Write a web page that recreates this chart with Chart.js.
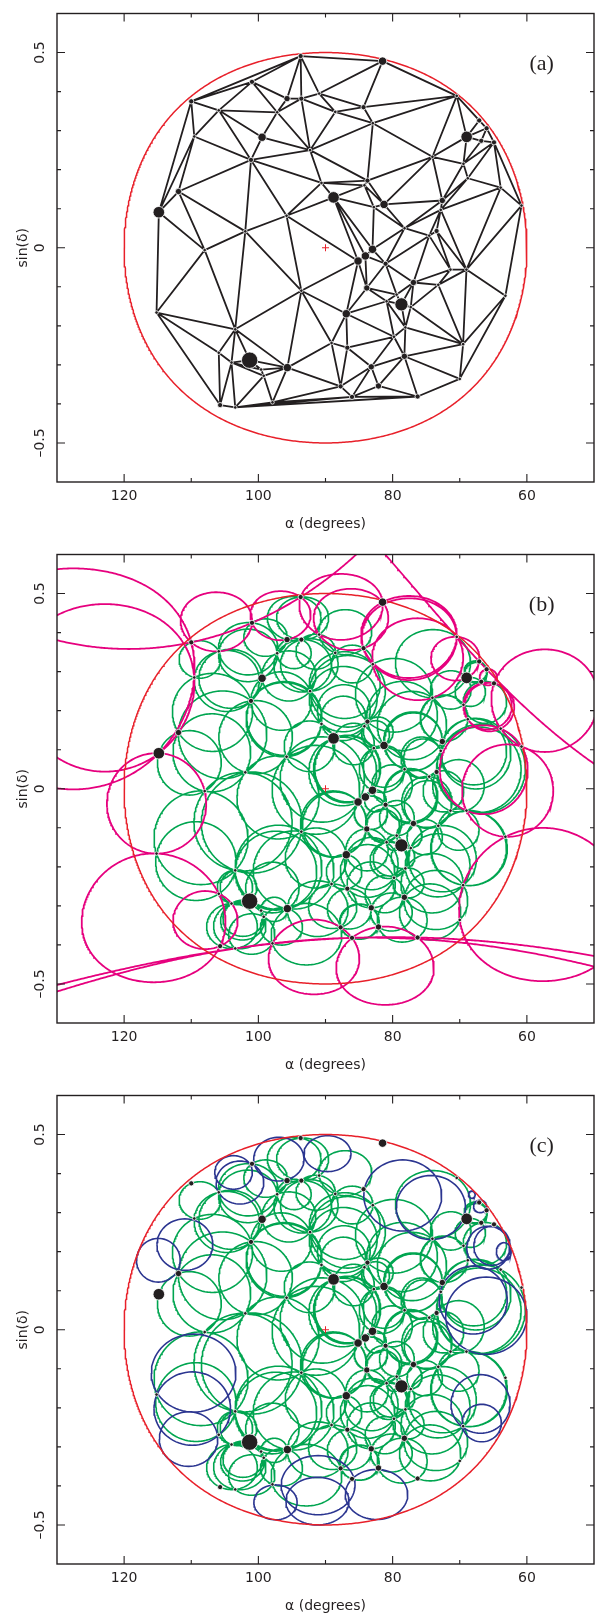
<!DOCTYPE html>
<html>
<head>
<meta charset="utf-8">
<script src="https://cdn.jsdelivr.net/npm/chart.js@4.4.1/dist/chart.umd.min.js"></script>
<style>
    body { margin: 0; background: #fff; overflow: hidden; }
    #wrap { position: relative; width: 603px; height: 1617px; overflow: hidden; }
    canvas { position: absolute; left: 0; }
</style>
</head>
<body>
<div id="wrap">
    <canvas id="chartA" width="603" height="541" style="top:0"></canvas>
    <canvas id="chartB" width="603" height="541" style="top:541px"></canvas>
    <canvas id="chartC" width="603" height="541" style="top:1082px"></canvas>
</div>
<script>
// source positions (right ascension in degrees, sin of declination) and dot weight
const ra = [93.7, 81.5, 100.95, 95.73, 93.6, 84.33, 70.45, 110.0, 105.9, 88.55,
    82.95, 67.1, 66.0, 64.9, 66.8, 68.97, 99.45, 109.55, 97.2, 90.95,
    92.3, 101.1, 111.9, 114.83, 90.6, 95.8, 101.95, 108.0, 88.8, 83.75,
    84.2, 81.28, 82.8, 74.07, 69.45, 68.8, 63.9, 60.8, 72.6, 72.83,
    78.22, 73.45, 74.55, 83.0, 84.06, 85.15, 81.05, 71.38, 69.0, 93.6,
    83.85, 76.9, 73.2, 115.17, 78.69, 80.9, 79.4, 77.3, 86.9, 78.1,
    63.2, 79.8, 89.1, 86.75, 78.25, 69.5, 83.18, 70.0, 82.11, 87.75,
    86.05, 76.28, 103.45, 105.9, 101.3, 104.0, 99.6, 99.2, 95.68, 105.7,
    103.45, 97.9];
const sinDec = [0.491, 0.478, 0.425, 0.382, 0.382, 0.36, 0.389, 0.375, 0.352, 0.348,
    0.319, 0.326, 0.306, 0.27, 0.274, 0.284, 0.283, 0.285, 0.347, 0.395,
    0.25, 0.225, 0.144, 0.091, 0.166, 0.082, 0.042, -0.006, 0.129, 0.172,
    0.16, 0.111, 0.104, 0.233, 0.215, 0.178, 0.154, 0.108, 0.121, 0.097,
    0.05, 0.043, 0.031, -0.004, -0.021, -0.034, -0.041, -0.056, -0.056, -0.11,
    -0.103, -0.089, -0.095, -0.166, -0.145, -0.137, -0.12, -0.152, -0.169, -0.204,
    -0.123, -0.228, -0.244, -0.256, -0.278, -0.247, -0.305, -0.336, -0.354, -0.355,
    -0.382, -0.381, -0.209, -0.269, -0.288, -0.294, -0.312, -0.328, -0.307, -0.403,
    -0.409, -0.396];
const weight = [2, 4, 2, 3, 2, 2, 1, 2, 1, 1,
    1, 2, 2, 2, 2, 5, 4, 1, 1, 1,
    1, 2, 3, 5, 1, 1, 1, 1, 5, 2,
    1, 4, 1, 1, 1, 1, 1, 1, 3, 1,
    1, 2, 1, 4, 4, 4, 2, 1, 1, 1,
    3, 3, 1, 1, 6, 1, 1, 1, 4, 1,
    1, 1, 1, 2, 3, 1, 3, 1, 3, 2,
    2, 2, 1, 1, 7, 1, 1, 1, 4, 2,
    1, 1];

// survey field: centre (ra, dec) and angular radius, degrees
const fieldCentre = [90, 0];
const fieldRadius = 30;

// replacement circles of panel (c): centre ra, centre sinDec, half width (deg), half height
const blueRa = [103.7, 102.75, 96.95, 89.7, 78.5, 74.3, 68.2, 66.97, 65.75, 65.2, 63.44,
    68.0, 66.05, 66.9, 66.73, 82.4, 91.1, 91.2, 97.45, 110.4, 109.85, 109.65, 114.9, 110.95];
const blueDec = [0.403, 0.377, 0.437, 0.451, 0.344, 0.313, 0.346, 0.316, 0.21, 0.215, 0.2,
    0.076, 0.036, -0.19, -0.239, -0.422, -0.398, -0.439, -0.442, -0.28, -0.202, -0.111, 0.178, 0.218];
const blueW = [2.8, 3.55, 3.75, 3.5, 5.8, 5.15, 0.5, 0.97, 3.2, 2.7, 1.1,
    5.07, 6.05, 4.4, 2.93, 4.65, 5.5, 4.7, 3.22, 4.35, 5.7, 6.3, 3.25, 4.16];
const blueH = [0.043, 0.055, 0.056, 0.046, 0.091, 0.082, 0.009, 0.016, 0.055, 0.05, 0.023,
    0.087, 0.099, 0.075, 0.048, 0.064, 0.0757, 0.061, 0.0447, 0.07, 0.094, 0.1, 0.056, 0.066];

const xTicks = [120, 100, 80, 60];
const xMinor = [110, 90, 70];
const yTicks = [-0.5, 0, 0.5];
const yMinor = [-0.4, -0.3, -0.2, -0.1, 0.1, 0.2, 0.3, 0.4];

const dotSize = [0, 1.8, 2.6, 3.2, 4.2, 5.8, 6.6, 8.2];
const ink = "#231f20";
const font = {family: "DejaVu Sans", size: 14};

Chart.defaults.font.family = "DejaVu Sans";


// stereographic projection about the field centre: circles stay circles
function toPlane(a, s) {
    let cosd = Math.sqrt(1 - s * s);
    let da = (a - fieldCentre[0]) * Math.PI / 180;
    let k = 1 + cosd * Math.cos(da);
    return [cosd * Math.sin(da) / k, s / k];
}

function toSky(u, v) {
    let r2 = u * u + v * v;
    let da = Math.atan2(2 * u, 1 - r2) * 180 / Math.PI;
    if (Math.abs(da) > 80) return null;
    return {x: fieldCentre[0] + da, y: 2 * v / (1 + r2)};
}

function gap() {
    return {x: null, y: null};
}

function makeTri(V, a, b, c) {
    let [ax, ay] = V[a], [bx, by] = V[b], [cx, cy] = V[c];
    let d = 2 * (ax * (by - cy) + bx * (cy - ay) + cx * (ay - by));
    let a2 = ax * ax + ay * ay, b2 = bx * bx + by * by, c2 = cx * cx + cy * cy;
    let ux = (a2 * (by - cy) + b2 * (cy - ay) + c2 * (ay - by)) / d;
    let uy = (a2 * (cx - bx) + b2 * (ax - cx) + c2 * (bx - ax)) / d;
    return {a: a, b: b, c: c, cx: ux, cy: uy, r2: (ax - ux) ** 2 + (ay - uy) ** 2};
}

// Bowyer-Watson on the projected positions
function triangulate(P) {
    const M = 1000;
    let n = P.length;
    let V = P.concat([[-M, -M], [M, -M], [0, M]]);
    let tris = [makeTri(V, n, n + 1, n + 2)];

    for (let i = 0; i < n; i++) {
        let [x, y] = V[i];
        let bad = [], keep = [];
        for (let t of tris) {
            if ((x - t.cx) ** 2 + (y - t.cy) ** 2 < t.r2) bad.push(t); else keep.push(t);
        }
        let edges = [];
        for (let t of bad) {
            for (let e of [[t.a, t.b], [t.b, t.c], [t.c, t.a]]) {
                let k = edges.findIndex(f => (f[0] === e[0] && f[1] === e[1]) || (f[0] === e[1] && f[1] === e[0]));
                if (k >= 0) edges.splice(k, 1); else edges.push(e);
            }
        }
        tris = keep.concat(edges.map(e => makeTri(V, e[0], e[1], i)));
    }
    return tris.filter(t => t.a < n && t.b < n && t.c < n);
}

function circlePath(cx, cy, R, out) {
    let t0 = Math.atan2(-cy, -cx);
    let span = Math.min(Math.PI, 2.5 / R);
    let steps = Math.max(120, Math.ceil(2 * span * R / 0.002));
    let open = false;
    for (let i = 0; i <= steps; i++) {
        let t = t0 - span + 2 * span * i / steps;
        let q = toSky(cx + R * Math.cos(t), cy + R * Math.sin(t));
        if (q) {
            out.push(q);
            open = true;
        } else if (open) {
            out.push(gap());
            open = false;
        }
    }
    if (open) out.push(gap());
}


let plane = ra.map((a, i) => toPlane(a, sinDec[i]));
let triangles = triangulate(plane);
let boundaryR = Math.tan(fieldRadius / 2 * Math.PI / 180);

let points = ra.map((a, i) => ({x: a, y: sinDec[i]}));
let radii = weight.map(w => dotSize[w]);

let boundary = [];
circlePath(0, 0, boundaryR, boundary);

let edgeLines = [];
let seen = new Set();
for (let t of triangles) {
    for (let [p, q] of [[t.a, t.b], [t.b, t.c], [t.c, t.a]]) {
        let key = Math.min(p, q) + "-" + Math.max(p, q);
        if (seen.has(key)) continue;
        seen.add(key);
        edgeLines.push(points[p], points[q], gap());
    }
}

let greenLines = [];
let magentaLines = [];
for (let t of triangles) {
    let R = Math.sqrt(t.r2);
    let inside = Math.hypot(t.cx, t.cy) + R <= boundaryR * 1.003;
    circlePath(t.cx, t.cy, R, inside ? greenLines : magentaLines);
}

let blueLines = [];
for (let k = 0; k < blueRa.length; k++) {
    for (let i = 0; i <= 72; i++) {
        let t = i / 72 * 2 * Math.PI;
        blueLines.push({x: blueRa[k] + blueW[k] * Math.cos(t), y: blueDec[k] + blueH[k] * Math.sin(t)});
    }
    blueLines.push(gap());
}


function lineSet(data, colour, width) {
    return {data: data, showLine: true, borderColor: colour, borderWidth: width,
        pointRadius: 0, fill: false, tension: 0, spanGaps: false};
}

function baseSets() {
    return [
        {data: points, pointRadius: radii, backgroundColor: ink, borderColor: "#fff", borderWidth: 0.8},
        {data: [{x: fieldCentre[0], y: fieldCentre[1]}], pointStyle: "cross", pointRadius: 3.5,
            borderColor: "#e8202a", borderWidth: 1},
        lineSet(boundary, "#e8202a", 1.5),
    ];
}

const frame = {
    id: "frame",
    afterDraw(chart) {
        let {ctx, chartArea: a, scales: {x, y}} = chart;
        ctx.save();
        ctx.strokeStyle = ink;
        ctx.lineWidth = 1.4;
        ctx.strokeRect(a.left, a.top, a.right - a.left, a.bottom - a.top);
        ctx.lineWidth = 1.1;
        ctx.beginPath();
        for (let v of xTicks.concat(xMinor)) {
            let px = x.getPixelForValue(v);
            let len = xTicks.includes(v) ? 8 : 4;
            ctx.moveTo(px, a.bottom); ctx.lineTo(px, a.bottom - len);
            ctx.moveTo(px, a.top); ctx.lineTo(px, a.top + len);
        }
        for (let v of yTicks.concat(yMinor)) {
            let py = y.getPixelForValue(v);
            let len = yTicks.includes(v) ? 8 : 4;
            ctx.moveTo(a.left, py); ctx.lineTo(a.left + len, py);
            ctx.moveTo(a.right, py); ctx.lineTo(a.right - len, py);
        }
        ctx.stroke();
        ctx.font = '22px "Liberation Serif"';
        ctx.fillStyle = ink;
        ctx.textAlign = "center";
        ctx.textBaseline = "middle";
        ctx.fillText(chart.options.plugins.frame.label, x.getPixelForValue(57.8), y.getPixelForValue(0.47));
        ctx.restore();
    }
};

function drawPanel(id, label, extra) {
    new Chart(id, {
        type: "scatter",
        data: {datasets: baseSets().concat(extra)},
        options: {
            responsive: false,
            animation: false,
            devicePixelRatio: 1,
            events: [],
            layout: {padding: {top: 13.5, right: 1, bottom: 0, left: 0}},
            plugins: {
                legend: {display: false},
                tooltip: {enabled: false},
                frame: {label: label},
            },
            scales: {
                x: {
                    type: "linear", min: 50, max: 130, reverse: true,
                    afterBuildTicks: s => { s.ticks = xTicks.map(v => ({value: v})); },
                    afterFit: s => { s.height = 59; },
                    grid: {display: false, drawTicks: false},
                    border: {display: false},
                    ticks: {autoSkip: false, minRotation: 0, maxRotation: 0, padding: 6, font: font, color: ink,
                        callback: v => String(v)},
                    title: {display: true, text: "\u03b1 (degrees)", font: font, color: ink,
                        padding: {top: 0, bottom: 8.6}},
                },
                y: {
                    type: "linear", min: -0.6, max: 0.6,
                    afterBuildTicks: s => { s.ticks = yTicks.map(v => ({value: v})); },
                    afterFit: s => { s.width = 57; },
                    grid: {display: false, drawTicks: false},
                    border: {display: false},
                    ticks: {autoSkip: false, minRotation: 90, maxRotation: 90, crossAlign: "center", padding: 2,
                        font: font, color: ink,
                        callback: v => v < 0 ? "\u2013" + (-v) : String(v)},
                    title: {display: true, text: "sin(\u03b4)", font: font, color: ink,
                        padding: {top: 15, bottom: 0}},
                },
            },
        },
        plugins: [frame],
    });
}

drawPanel("chartA", "(a)", [lineSet(edgeLines, ink, 1.8)]);
drawPanel("chartB", "(b)", [lineSet(magentaLines, "#e6007e", 1.8), lineSet(greenLines, "#00a550", 1.6)]);
drawPanel("chartC", "(c)", [lineSet(blueLines, "#2b3590", 1.6), lineSet(greenLines, "#00a550", 1.6)]);
</script>
</body>
</html>
